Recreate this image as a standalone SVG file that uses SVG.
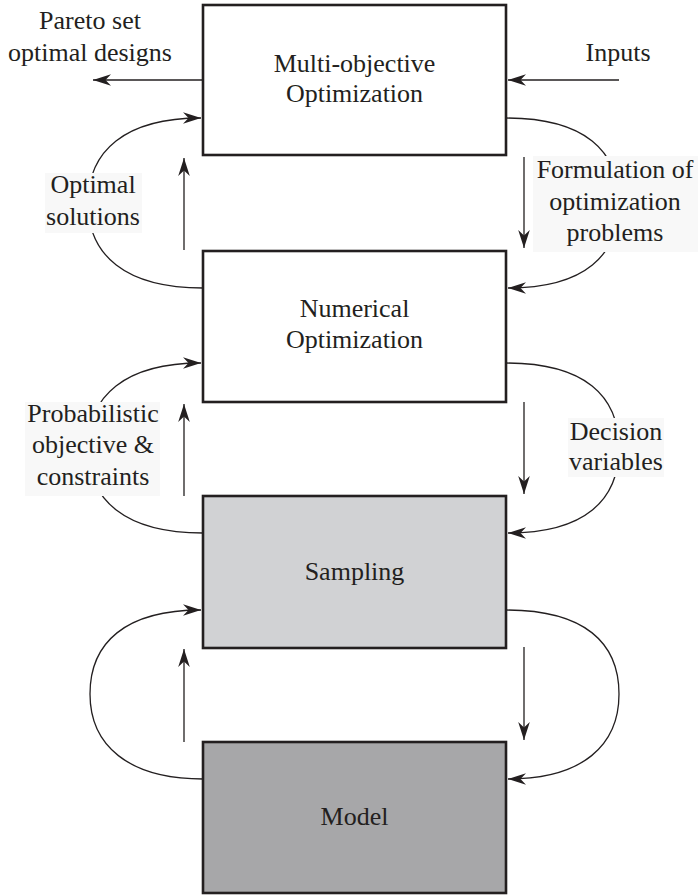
<svg xmlns="http://www.w3.org/2000/svg" width="698" height="895" viewBox="0 0 698 895" font-family="'Liberation Serif', 'DejaVu Serif', 'Times New Roman', Times, serif">
<defs>
<marker id="ah" markerUnits="userSpaceOnUse" markerWidth="20" markerHeight="14" viewBox="-18 -7 20 14" refX="0" refY="0" orient="auto">
<path d="M0,0 L-18,-5.8 L-12.5,0 L-18,5.8 Z" fill="#231f20"/>
</marker>
<style>
.box{stroke:#231f20;stroke-width:2.6}
.t{font-family:'Liberation Serif','DejaVu Serif','Times New Roman',Times,serif;font-size:26px;fill:#231f20;text-anchor:middle}
.c{fill:none;stroke:#231f20;stroke-width:1.3}
.a{fill:none;stroke:#231f20;stroke-width:1.3;marker-end:url(#ah)}
.bg{fill:#f8f8f8}
</style>
</defs>
<rect width="698" height="895" fill="#ffffff"/>

<g id="connectors">
<line class="a" x1="203" y1="80" x2="93" y2="80"/>
<line class="a" x1="619" y1="80" x2="508" y2="80"/>
<path class="a" d="M203,288 C125,288 88,255 88,203 C88,151 125,118 201,118"/>
<line class="a" x1="184" y1="250" x2="184" y2="158"/>
<line class="a" x1="524" y1="157" x2="524" y2="248"/>
<path class="a" d="M506,118 C585,118 619,151 619,203 C619,255 585,288 508,288"/>
<path class="a" d="M203,533 C125,533 88,500 88,448 C88,396 125,363 201,363"/>
<line class="a" x1="184" y1="496" x2="184" y2="404"/>
<line class="a" x1="524" y1="402" x2="524" y2="494"/>
<path class="a" d="M506,363 C585,363 619,396 619,448 C619,500 585,533 508,533"/>
<path class="a" d="M203,779 C128,779 90,745 90,694 C90,643 125,610 201,610"/>
<line class="a" x1="184" y1="742" x2="184" y2="649"/>
<line class="a" x1="524" y1="647" x2="524" y2="740"/>
<path class="a" d="M506,610 C585,610 619,643 619,694 C619,745 583,779 508,779"/>
</g>

<g id="label-pareto">
<text class="t" x="90" y="29">Pareto set</text>
<text class="t" x="90" y="61">optimal designs</text>
</g>
<g id="label-inputs">
<text class="t" x="618" y="61">Inputs</text>
</g>
<g id="label-optimal">
<rect class="bg" x="45" y="173" width="97" height="60"/>
<text class="t" x="93" y="193">Optimal</text>
<text class="t" x="93" y="225">solutions</text>
</g>
<g id="label-formulation">
<rect class="bg" x="533" y="156" width="165" height="96"/>
<text class="t" x="615" y="178">Formulation of</text>
<text class="t" x="615" y="210">optimization</text>
<text class="t" x="615" y="241">problems</text>
</g>
<g id="label-probabilistic">
<rect class="bg" x="25" y="402" width="135" height="94"/>
<text class="t" x="93" y="422">Probabilistic</text>
<text class="t" x="93" y="453">objective &amp;</text>
<text class="t" x="93" y="485">constraints</text>
</g>
<g id="label-decision">
<rect class="bg" x="568" y="418" width="96" height="59"/>
<text class="t" x="616" y="440">Decision</text>
<text class="t" x="616" y="470">variables</text>
</g>

<g id="node-multi">
<rect class="box" x="203" y="5" width="303" height="150" fill="#ffffff"/>
<text class="t" x="354.5" y="72">Multi-objective</text>
<text class="t" x="354.5" y="102">Optimization</text>
</g>
<g id="node-numerical">
<rect class="box" x="203" y="251" width="303" height="151" fill="#ffffff"/>
<text class="t" x="354.5" y="317">Numerical</text>
<text class="t" x="354.5" y="348">Optimization</text>
</g>
<g id="node-sampling">
<rect class="box" x="203" y="496" width="303" height="152" fill="#d1d2d4"/>
<text class="t" x="354.5" y="580">Sampling</text>
</g>
<g id="node-model">
<rect class="box" x="203" y="742" width="303" height="151" fill="#a7a7a9"/>
<text class="t" x="354.5" y="825">Model</text>
</g>
</svg>
